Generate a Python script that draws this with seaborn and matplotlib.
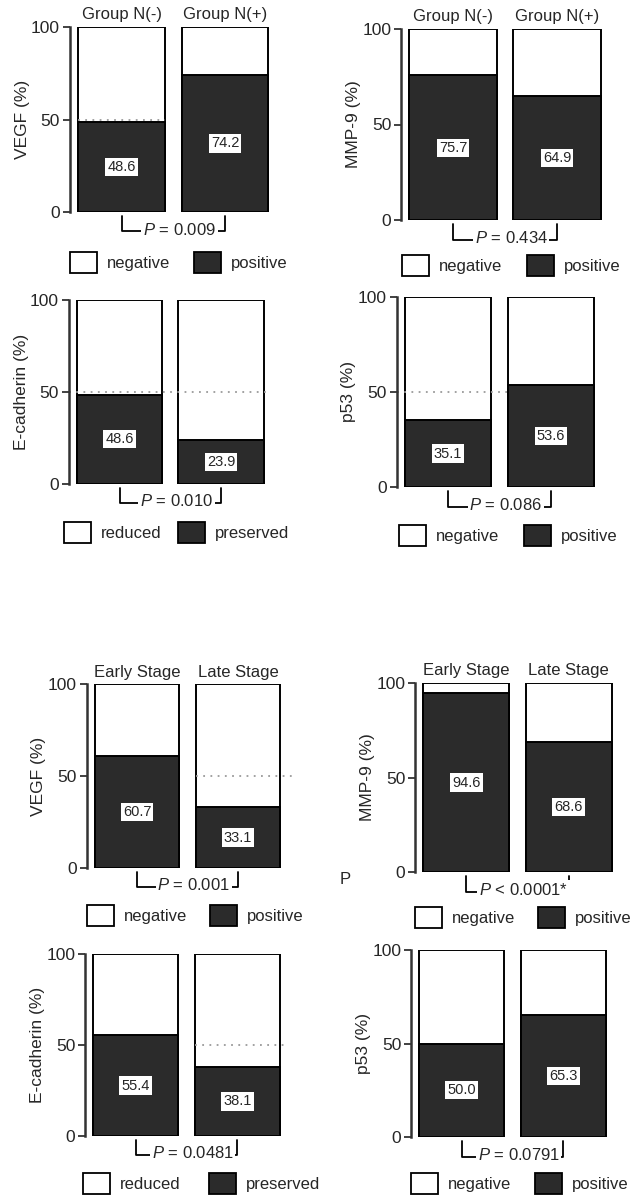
import matplotlib
matplotlib.use("Agg")
import matplotlib.pyplot as plt
from matplotlib.patches import Patch
import pandas as pd
import seaborn as sns

# values (% positive / preserved)
groups_n = ["Group N(-)", "Group N(+)"]
groups_stage = ["Early Stage", "Late Stage"]
vegf_n = [48.6, 74.2]
mmp9_n = [75.7, 64.9]
ecad_n = [48.6, 23.9]
p53_n = [35.1, 53.6]
vegf_stage = [60.7, 33.1]
mmp9_stage = [94.6, 68.6]
ecad_stage = [55.4, 38.1]
p53_stage = [50.0, 65.3]
p_labels = ["= 0.009", "= 0.434", "= 0.010", "= 0.086",
            "= 0.001", "< 0.0001*", "= 0.0481", "= 0.0791"]
ylabels = ["VEGF (%)", "MMP-9 (%)", "E-cadherin (%)", "p53 (%)"] * 2
leg_pos = ["negative", "positive"]
leg_ecad = ["reduced", "preserved"]

sns.set_theme(style="white")
plt.rcParams["font.family"] = ["Liberation Sans", "DejaVu Sans"]
plt.rcParams["mathtext.fontset"] = "custom"
plt.rcParams["mathtext.it"] = "Liberation Sans:italic"
plt.rcParams["mathtext.rm"] = "Liberation Sans"

W, H = 637, 1200
DARK = "#2b2b2b"
fig = plt.figure(figsize=(W / 100, H / 100), dpi=100)


def frac_box(left, right, top, bottom):
    return [left / W, 1 - bottom / H, (right - left) / W, (bottom - top) / H]


# layout in pixels: axes box, legend anchor, legend column spacing, dotted line span
panels = [
    dict(vals=vegf_n, grp=groups_n, head=True, box=(69.75, 276.75, 27, 212),
         leg=(70, 252, 1.45), leg_lab=leg_pos, ref=(-0.42, 0.42)),
    dict(vals=mmp9_n, grp=groups_n, head=True, box=(401, 609, 29, 220),
         leg=(402, 255, 1.5), leg_lab=leg_pos, ref=None),
    dict(vals=ecad_n, grp=groups_n, head=False, box=(68.75, 271.75, 300, 484),
         leg=(64, 522, 1.0), leg_lab=leg_ecad, ref=(-0.5, 1.45)),
    dict(vals=p53_n, grp=groups_n, head=False, box=(396.5, 602.5, 297, 487),
         leg=(399, 525, 1.5), leg_lab=leg_pos, ref=(-0.5, 0.58)),
    dict(vals=vegf_stage, grp=groups_stage, head=True, box=(86.5, 288.5, 684, 868),
         leg=(87, 905, 1.4), leg_lab=leg_pos, ref=(0.58, 1.54)),
    dict(vals=mmp9_stage, grp=groups_stage, head=True, box=(415, 620, 683, 872),
         leg=(415, 907, 1.4), leg_lab=leg_pos, ref=None),
    dict(vals=ecad_stage, grp=groups_stage, head=False, box=(85, 288, 954, 1136),
         leg=(83, 1173, 1.75), leg_lab=leg_ecad, ref=(0.58, 1.5)),
    dict(vals=p53_stage, grp=groups_stage, head=False, box=(411, 614, 950, 1137),
         leg=(411, 1173, 1.45), leg_lab=leg_pos, ref=None),
]

for i, p in enumerate(panels):
    ax = fig.add_axes(frac_box(*p["box"]))
    df = pd.DataFrame({"group": p["grp"], "value": p["vals"], "total": [100.0, 100.0]})

    sns.barplot(data=df, x="group", y="total", color="white", saturation=1,
                width=0.84, edgecolor="black", linewidth=1.4, ax=ax, zorder=1)
    if p["ref"] is not None:
        ax.plot(p["ref"], [50, 50], color="#9a9a9a", lw=1.3, ls=(0, (1, 3)),
                zorder=2, clip_on=False)
    sns.barplot(data=df, x="group", y="value", color=DARK, saturation=1,
                width=0.84, edgecolor="black", linewidth=1.4, ax=ax, zorder=3)

    for j, v in enumerate(p["vals"]):
        ax.text(j, v / 2, f"{v:.1f}", ha="center", va="center", fontsize=10.5,
                zorder=5, bbox=dict(boxstyle="square,pad=0.15", fc="white", ec="none"))
        if p["head"]:
            ax.text(j, 106.5, p["grp"][j], ha="center", va="center", fontsize=12,
                    clip_on=False)

    # p-value bracket
    ax.plot([0, 0, 1, 1], [-2, -10.5, -10.5, -2], color="black", lw=1.3,
            clip_on=False, zorder=4)
    ax.text(0.56, -9.5, r"$\it{P}$ " + p_labels[i], ha="center", va="center",
            fontsize=12, zorder=5,
            bbox=dict(boxstyle="square,pad=0.1", fc="white", ec="none"))

    ax.set_xlim(-0.5, 1.5)
    ax.set_ylim(0, 100)
    ax.set_yticks([0, 50, 100])
    ax.set_xticks([])
    ax.set_xlabel("")
    ax.set_ylabel(ylabels[i], fontsize=12.5, labelpad=1)
    ax.tick_params(axis="y", left=True, length=5, width=1.3, color="#333333",
                   labelsize=12.5, pad=2)
    for s in ["top", "right", "bottom"]:
        ax.spines[s].set_visible(False)
    ax.spines["left"].set_color("#333333")
    ax.spines["left"].set_linewidth(1.8)
    ax.patch.set_alpha(0)

    lx, ly, cs = p["leg"]
    handles = [Patch(facecolor="white", edgecolor="black", lw=1.3, label=p["leg_lab"][0]),
               Patch(facecolor=DARK, edgecolor="black", lw=1.3, label=p["leg_lab"][1])]
    ax.legend(handles=handles, loc="upper left", bbox_to_anchor=(lx / W, 1 - ly / H),
              bbox_transform=fig.transFigure, ncol=2, frameon=False, borderpad=0,
              borderaxespad=0, handlelength=1.6, handleheight=1.6, handletextpad=0.6,
              columnspacing=cs, fontsize=12)

# stray label present in the original figure
fig.text(345 / W, 1 - 880 / H, "P", ha="center", va="center", fontsize=12)

fig.savefig("out.png", dpi=100, facecolor="white")
